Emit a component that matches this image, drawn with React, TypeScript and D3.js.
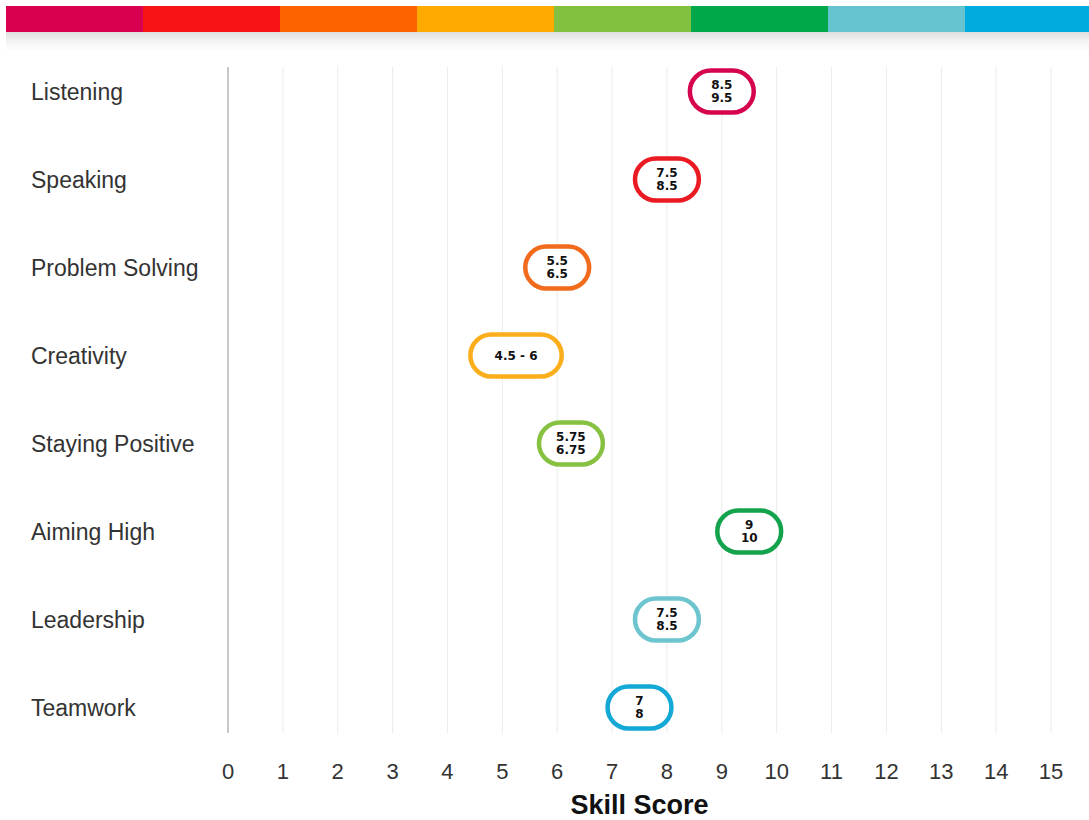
import React from "react";
import * as d3 from "d3";

// Skills and their score ranges (low / high)
const skills = [
  "Listening",
  "Speaking",
  "Problem Solving",
  "Creativity",
  "Staying Positive",
  "Aiming High",
  "Leadership",
  "Teamwork",
];
const lowScores = [8.5, 7.5, 5.5, 4.5, 5.75, 9, 7.5, 7];
const highScores = [9.5, 8.5, 6.5, 6, 6.75, 10, 8.5, 8];
const pillColors = [
  "#d6044f",
  "#ea1a22",
  "#f26b1d",
  "#fbae1c",
  "#86c142",
  "#12a34c",
  "#6cc5cf",
  "#13a8d6",
];
// Decorative header band
const bandColors = [
  "#d9004f",
  "#f81316",
  "#ff6300",
  "#ffaa00",
  "#82c03f",
  "#00a84a",
  "#65c4cf",
  "#00acde",
];
const tickValues = d3.range(0, 16);
const axisTitle = "Skill Score";

const W = 1089;
const H = 820;

export default function App() {
  const x = d3.scaleLinear().domain([0, 15]).range([228, 1051]);
  const y = d3.scalePoint<string>().domain(skills).range([91.5, 707.5]);
  const band = d3
    .scaleBand<number>()
    .domain(d3.range(bandColors.length))
    .range([6, 6 + 137 * bandColors.length]);

  const labelFont = "'Liberation Sans', Arial, Helvetica, sans-serif";
  const pillFont = "'DejaVu Sans', Verdana, sans-serif";
  const pad = 4.5;
  const pillH = 42;

  return (
    <svg
      width={W}
      height={H}
      style={{ position: "absolute", left: 0, top: 0, background: "#fff" }}
    >
      <defs>
        <linearGradient id="bandShadow" x1="0" y1="0" x2="0" y2="1">
          <stop offset="0" stopColor="#000" stopOpacity={0.13} />
          <stop offset="0.5" stopColor="#000" stopOpacity={0.04} />
          <stop offset="1" stopColor="#000" stopOpacity={0} />
        </linearGradient>
      </defs>

      {/* header band with its soft shadow */}
      <rect x={6} y={32} width={W - 6} height={20} fill="url(#bandShadow)" />
      {bandColors.map((c, i) => (
        <rect
          key={c}
          x={band(i)}
          y={6}
          width={band.bandwidth() + 0.5}
          height={26}
          fill={c}
        />
      ))}

      {/* vertical grid */}
      {tickValues.map((t) => (
        <line
          key={t}
          x1={x(t)}
          x2={x(t)}
          y1={67}
          y2={733}
          stroke={t === 0 ? "#c8c8c8" : "#ebebeb"}
          strokeWidth={t === 0 ? 2 : 1}
        />
      ))}

      {/* tick labels */}
      {tickValues.map((t) => (
        <text
          key={t}
          x={x(t)}
          y={779}
          textAnchor="middle"
          fontFamily={labelFont}
          fontSize={22}
          fill="#333"
        >
          {t}
        </text>
      ))}
      <text
        x={(x(0) + x(15)) / 2}
        y={814}
        textAnchor="middle"
        fontFamily={labelFont}
        fontWeight="bold"
        fontSize={27}
        fill="#111"
      >
        {axisTitle}
      </text>

      {/* row labels */}
      {skills.map((s) => (
        <text
          key={s}
          x={31}
          y={(y(s) as number) + 8.5}
          fontFamily={labelFont}
          fontSize={23}
          fill="#333"
        >
          {s}
        </text>
      ))}

      {/* range pills */}
      {skills.map((s, i) => {
        const lo = lowScores[i];
        const hi = highScores[i];
        const cy = y(s) as number;
        const x0 = x(lo) - pad;
        const x1 = x(hi) + pad;
        const cx = (x0 + x1) / 2;
        const lines = hi - lo > 1 ? [`${lo} - ${hi}`] : [String(lo), String(hi)];
        return (
          <g key={s}>
            <rect
              x={x0}
              y={cy - pillH / 2}
              width={x1 - x0}
              height={pillH}
              rx={pillH / 2}
              ry={pillH / 2}
              fill="#fff"
              stroke={pillColors[i]}
              strokeWidth={4.5}
            />
            {lines.length === 1 ? (
              <text
                x={cx}
                y={cy + 4.5}
                textAnchor="middle"
                fontFamily={pillFont}
                fontWeight="bold"
                fontSize={12}
                fill="#111"
              >
                {lines[0]}
              </text>
            ) : (
              lines.map((l, k) => (
                <text
                  key={k}
                  x={cx}
                  y={cy - 2.5 + k * 12.5}
                  textAnchor="middle"
                  fontFamily={pillFont}
                  fontWeight="bold"
                  fontSize={12}
                  fill="#111"
                >
                  {l}
                </text>
              ))
            )}
          </g>
        );
      })}
    </svg>
  );
}
